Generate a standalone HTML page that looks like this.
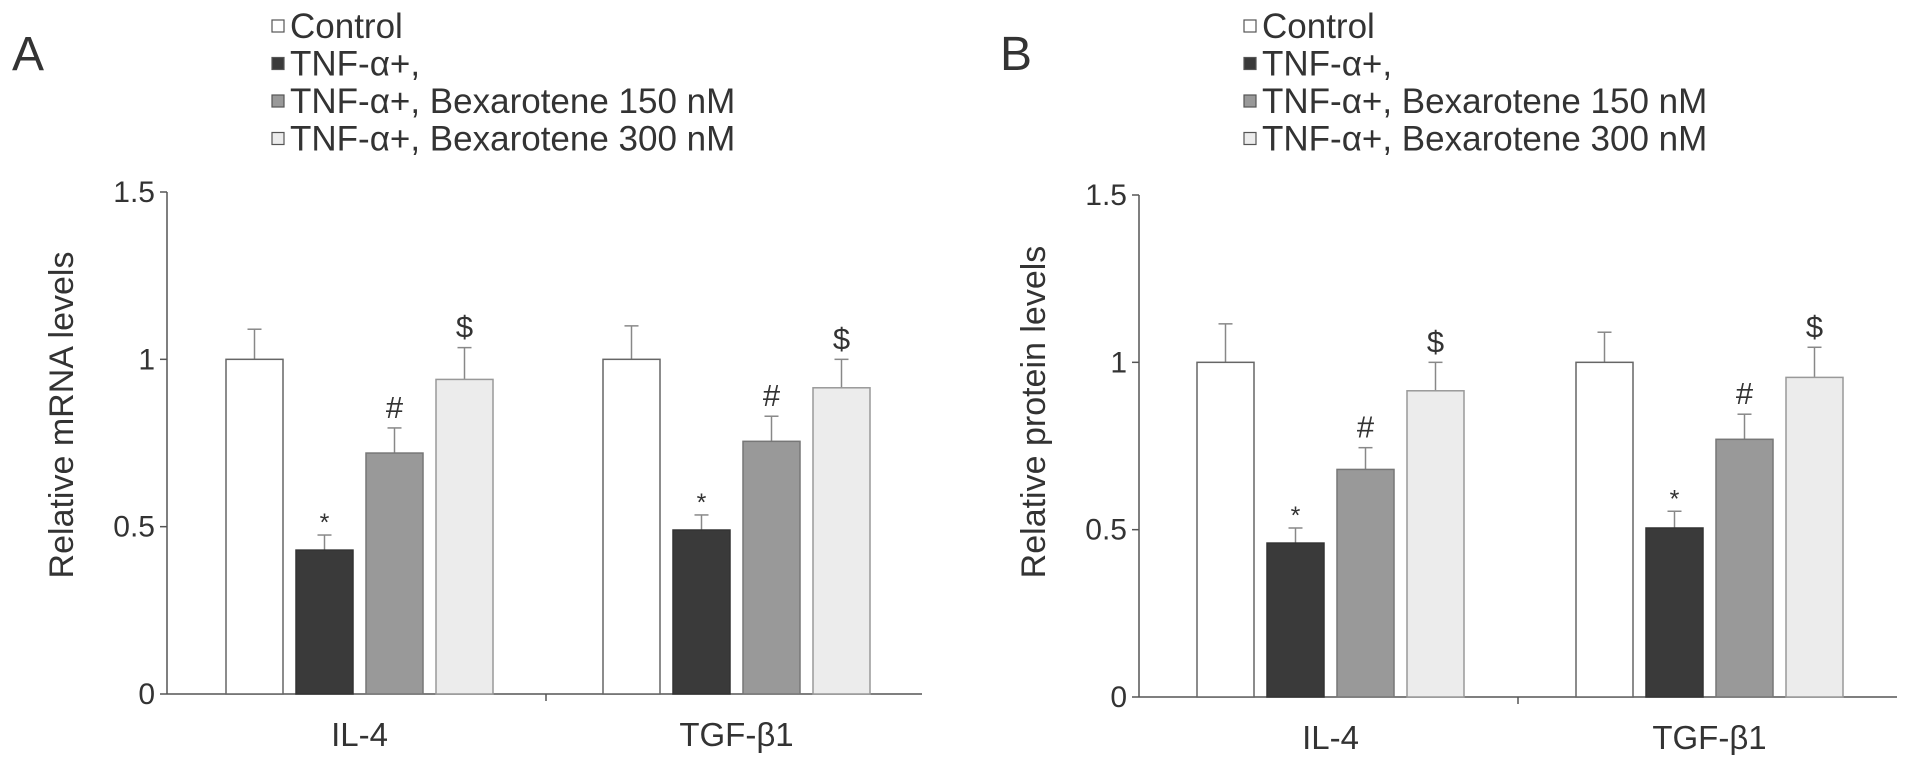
<!DOCTYPE html>
<html><head><meta charset="utf-8">
<style>
html,body{margin:0;padding:0;background:#fff;}
svg text{font-family:"Liberation Sans",sans-serif;fill:#333;}
</style></head>
<body>
<svg id="chart" width="1913" height="755" viewBox="0 0 1913 755" xmlns="http://www.w3.org/2000/svg"></svg>
<script>
const categories = ["IL-4", "TGF-\u03b21"];
const seriesNames = ["Control", "TNF-\u03b1+,", "TNF-\u03b1+, Bexarotene 150 nM", "TNF-\u03b1+, Bexarotene 300 nM"];
const marks = ["", "*", "#", "$"];
const yTicks = [0, 0.5, 1, 1.5];
const yTickLabels = ["0", "0.5", "1", "1.5"];
const mrnaValues = [[1.0, 0.43, 0.72, 0.94], [1.0, 0.49, 0.755, 0.915]];
const mrnaErrors = [[0.09, 0.045, 0.075, 0.095], [0.10, 0.045, 0.075, 0.085]];
const proteinValues = [[1.0, 0.46, 0.68, 0.915], [1.0, 0.505, 0.77, 0.955]];
const proteinErrors = [[0.115, 0.045, 0.065, 0.085], [0.09, 0.05, 0.075, 0.09]];

const NS = "http://www.w3.org/2000/svg";
const svg = document.getElementById("chart");
const fills = ["#ffffff", "#3a3a3a", "#999999", "#ececec"];
const strokes = ["#666", "#333", "#777", "#999"];

function mk(tag, attrs, parent) {
  const e = document.createElementNS(NS, tag);
  for (const k in attrs) e.setAttribute(k, attrs[k]);
  (parent || svg).appendChild(e);
  return e;
}

function panel(opt) {
  const g = mk("g", {});
  
  
  const y = v => opt.y0 - v * (opt.y0 - opt.y15) / 1.5;
  const L = mk("text", {x: opt.letterX, y: 70, "font-size": 48}, g);
  L.textContent = opt.letter;
  
  
  seriesNames.forEach((s, i) => {
    const cy = 26 + i * 37.5;
    const r = mk("rect", {x: opt.legX, y: cy - 6, width: 12, height: 12, fill: fills[i], stroke: "#555", "stroke-width": 1.2}, g);
    
    
    const t = mk("text", {x: opt.legX + 18, y: cy + 12, "font-size": 35}, g);
    t.textContent = s;
    
    
  });
  const ya = mk("line", {x1: opt.ax, y1: opt.y15, x2: opt.ax, y2: opt.y0, stroke: "#555", "stroke-width": 1.5}, g);
  
  
  const xa = mk("line", {x1: opt.ax, y1: opt.y0, x2: opt.axEnd, y2: opt.y0, stroke: "#555", "stroke-width": 1.5}, g);
  
  
  const mt = mk("line", {x1: opt.mid, y1: opt.y0, x2: opt.mid, y2: opt.y0 + 7, stroke: "#555", "stroke-width": 1.5}, g);
  
  
  yTicks.forEach((v, i) => {
    const tk = mk("line", {x1: opt.ax - 7, y1: y(v), x2: opt.ax, y2: y(v), stroke: "#555", "stroke-width": 1.5}, g);
    
    
    const t = mk("text", {x: opt.ax - 12, y: y(v) + 10, "font-size": 30, "text-anchor": "end"}, g);
    t.textContent = yTickLabels[i];
    
    
  });
  const yt = mk("text", {x: 0, y: 0, "font-size": 34, "text-anchor": "middle", transform: `translate(${opt.ax - 94},${opt.ytY}) rotate(-90)`}, g);
  yt.textContent = opt.ytitle;
  
  
  const bw = 57;
  categories.forEach((c, ci) => {
    opt.vals[ci].forEach((v, si) => {
      const bx = opt.groupStart[ci] + si * 70;
      const top = y(v), etop = y(v + opt.errs[ci][si]);
      const el = mk("line", {x1: bx + bw / 2, y1: top, x2: bx + bw / 2, y2: etop, stroke: "#888", "stroke-width": 1.5}, g);
      
      
      const ec = mk("line", {x1: bx + bw / 2 - 7, y1: etop, x2: bx + bw / 2 + 7, y2: etop, stroke: "#888", "stroke-width": 1.5}, g);
      
      
      const r = mk("rect", {x: bx, y: top, width: bw, height: opt.y0 - top, fill: fills[si], stroke: strokes[si], "stroke-width": 1.5}, g);
      
      
      if (marks[si]) {
        const m = mk("text", {x: bx + bw / 2, y: etop - (si === 1 ? 4 : 10), "font-size": si === 1 ? 25 : 31, "text-anchor": "middle"}, g);
        m.textContent = marks[si];
        
        
      }
    });
    const cx = opt.groupStart[ci] + (3 * 70 + bw) / 2;
    const t = mk("text", {x: cx, y: opt.y0 + 52, "font-size": 33, "text-anchor": "middle"}, g);
    t.textContent = c;
    
    
  });
}

panel({name: "panel-a-mrna", letter: "A", letterX: 12, legX: 272, ax: 167, axEnd: 922, mid: 546, y0: 694, y15: 192, ytY: 415,
  groupStart: [226, 603], vals: mrnaValues, errs: mrnaErrors, ytitle: "Relative mRNA levels"});
panel({name: "panel-b-protein", letter: "B", letterX: 1000, legX: 1244, ax: 1139, axEnd: 1897, mid: 1518, y0: 697, y15: 195, ytY: 412,
  groupStart: [1197, 1576], vals: proteinValues, errs: proteinErrors, ytitle: "Relative protein levels"});
</script>
</body></html>
